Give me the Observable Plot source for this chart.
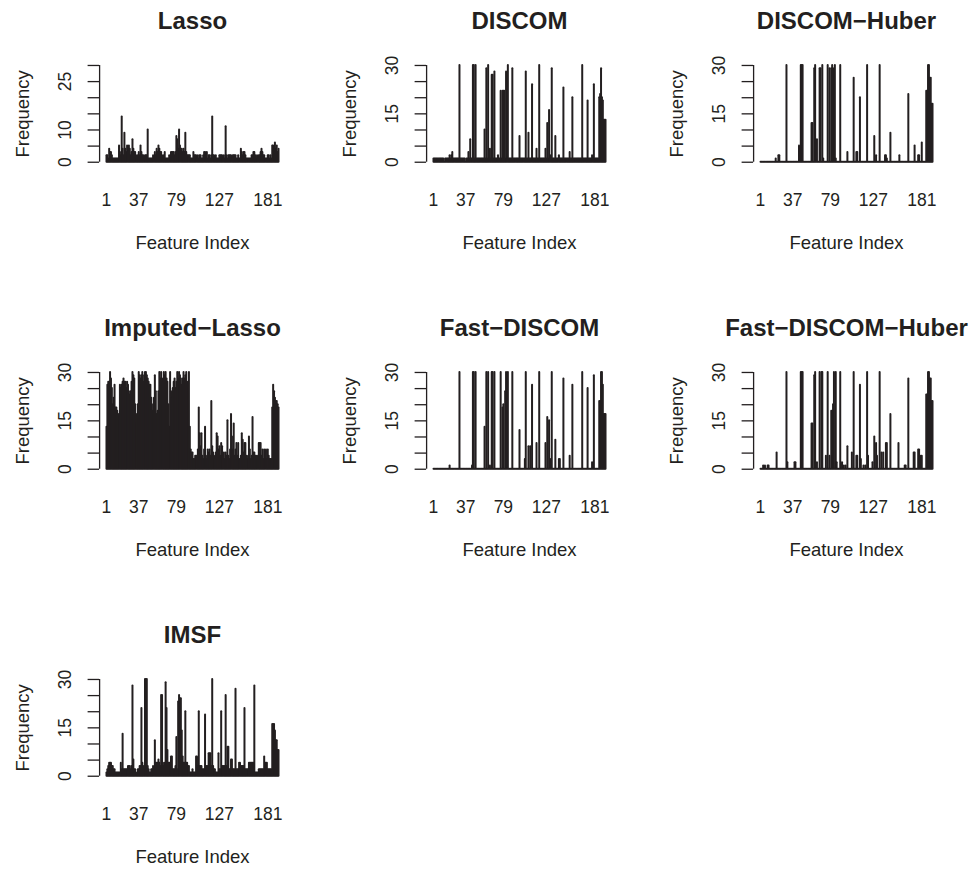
<!DOCTYPE html>
<html><head><meta charset="utf-8">
<script src="https://cdn.jsdelivr.net/npm/d3@7"></script>
<script src="https://cdn.jsdelivr.net/npm/@observablehq/plot@0.6"></script>
<style>
html,body{margin:0;padding:0;background:#fff;}
#chart{position:relative;width:969px;height:869px;overflow:hidden;background:#fff;font-family:"Liberation Sans",Arial,Helvetica,sans-serif;}
#chart svg{position:absolute;}
</style></head><body><div id="chart"></div>
<script>
// ---- data (frequency of selection per feature) ----
const xTickLabels = [1, 37, 79, 127, 181];
const yTickValues = [0, 5, 10, 15, 20, 25, 30];
const yLabelsLasso = [0, 10, 25];
const yLabelsOther = [0, 15, 30];

const lasso = [2,2,1,4,3,3,2,1,1,1,
 1,1,1,1,5,3,2,14,4,2,
 9,4,3,5,3,5,4,2,3,7,
 4,3,3,2,1,2,3,2,5,3,
 2,2,1,2,2,2,10,1,1,1,1,
 1,2,1,3,2,4,3,5,4,3,
 3,2,1,2,3,1,1,1,1,2,
 1,3,3,3,3,2,3,8,7,4,
 10,5,4,4,3,4,3,9,3,2,
 2,2,2,1,1,1,3,2,2,2,1,
 2,1,2,2,1,1,2,3,3,1,
 3,1,2,2,1,2,14,2,2,1,
 2,1,1,1,2,2,2,2,1,2,
 1,11,2,1,2,2,2,2,1,2,
 2,2,2,1,1,2,1,1,4,3,2,
 3,3,2,1,1,1,1,1,1,2,
 2,3,3,2,1,2,1,2,2,3,
 4,3,2,2,1,1,1,2,2,1,
 2,1,5,5,3,6,4,5,3,4];

const discom = [1,1,1,1,1,1,1,1,1,1,
 1,1,0,1,1,1,1,1,2,1,
 2,3,1,1,1,1,1,1,1,30,
 1,1,1,1,1,1,0,1,1,3,
 1,7,1,1,30,30,1,30,1,1,1,
 1,1,1,1,1,1,10,1,29,1,
 30,1,4,1,27,27,1,28,1,1,
 1,2,1,1,22,1,22,22,22,1,
 28,1,30,1,1,1,1,29,1,1,
 1,1,1,1,1,8,1,1,1,1,1,
 1,28,1,1,9,1,1,1,24,1,
 1,1,1,4,1,1,30,1,1,1,
 1,1,1,4,1,12,1,16,1,2,
 29,1,1,1,8,1,1,1,2,1,
 1,1,1,23,1,1,1,1,1,1,3,
 1,1,20,1,1,1,1,1,1,1,
 1,1,1,30,1,1,1,1,1,19,
 1,1,1,1,2,1,24,1,1,1,
 1,1,20,21,29,20,19,13,13,13];

const discomHuber = [0,0,0,0,0,0,0,0,0,0,
 0,0,0,0,0,0,0,1,0,0,
 2,2,0,0,0,0,0,0,0,30,
 0,0,0,0,0,0,0,0,0,0,
 0,0,0,5,0,30,30,30,0,0,0,
 0,0,0,0,0,0,12,12,0,29,
 30,0,7,0,0,29,29,0,30,1,
 0,0,0,0,30,0,29,0,29,30,
 29,0,30,1,0,0,0,0,30,0,
 0,0,0,0,0,0,3,0,0,0,0,
 0,0,26,0,0,3,3,0,0,20,
 0,0,0,0,0,0,0,30,0,0,
 0,0,0,0,0,8,0,2,0,0,
 0,30,0,0,0,0,0,2,2,1,
 0,0,0,9,0,0,0,0,0,0,0,
 0,0,2,0,0,0,0,0,0,0,
 0,0,21,0,0,0,0,0,0,5,
 0,0,0,2,2,0,0,6,0,0,
 0,0,22,22,30,30,26,26,18,18];

const imputedLasso = [13,26,27,27,30,28,25,20,22,26,
 19,19,18,17,16,26,25,26,27,28,
 27,27,25,27,26,24,23,24,27,30,
 29,28,20,14,17,20,30,29,28,29,
 30,27,29,30,30,29,28,27,26,26,22,
 18,20,22,29,24,17,18,24,30,28,
 30,28,27,30,29,30,28,27,20,13,
 30,24,22,25,27,28,25,27,30,28,
 30,29,28,26,28,30,28,29,30,27,
 25,30,13,6,5,5,3,3,4,4,4,
 6,19,11,7,11,4,3,6,13,4,
 3,6,5,6,4,21,7,5,4,3,
 5,11,10,6,7,4,8,7,4,5,
 3,5,4,15,4,3,6,17,10,6,
 14,4,6,8,4,8,3,3,4,11,9,
 5,8,8,4,3,4,10,6,3,4,
 16,5,5,4,4,3,4,8,8,8,
 4,6,3,6,5,6,3,6,4,3,
 3,3,19,26,24,22,21,21,20,19];

const fastDiscom = [0,0,0,0,0,0,0,0,0,0,
 0,0,0,0,0,0,0,0,1,0,
 0,0,0,0,0,0,0,0,0,30,
 0,0,0,0,0,0,0,0,0,0,
 0,0,0,1,30,30,0,30,0,0,0,
 0,0,0,0,0,0,13,0,30,0,
 30,0,1,0,30,30,0,30,0,0,
 0,0,0,0,30,0,19,20,0,24,
 30,0,30,0,0,0,0,30,0,0,
 0,0,0,0,0,12,0,0,0,0,0,
 3,30,0,0,7,0,7,0,26,0,
 0,0,0,8,0,0,30,0,0,0,
 0,0,0,8,0,16,0,15,0,3,
 30,0,0,0,9,0,0,0,3,3,
 0,0,0,28,0,0,0,0,0,0,4,
 0,0,26,0,0,0,0,0,0,0,
 0,0,0,30,0,0,0,0,0,25,
 0,0,0,0,2,0,29,0,0,0,
 0,0,21,21,30,30,26,17,17,17];

const fastDiscomHuber = [0,0,0,1,0,1,0,0,1,1,
 0,0,0,0,0,0,0,0,5,0,
 0,0,0,0,0,0,0,0,0,30,
 2,0,0,0,0,0,0,0,2,2,
 0,0,0,0,0,30,30,30,0,0,0,
 0,0,0,0,0,0,14,14,0,29,
 30,0,2,0,0,30,0,30,30,0,
 0,0,4,0,30,0,4,0,18,18,
 20,30,0,30,2,0,0,0,30,0,
 2,0,1,0,1,0,7,0,0,0,0,
 5,0,30,0,0,4,4,0,0,26,
 3,0,0,1,0,1,0,30,4,0,
 0,0,0,2,0,10,0,8,4,0,
 0,30,0,5,0,5,0,0,8,8,
 0,0,0,17,0,0,0,0,0,0,0,
 0,8,0,0,0,0,0,0,1,1,
 0,0,28,0,0,0,0,0,5,5,
 0,0,0,6,6,0,4,4,0,0,
 0,0,23,23,30,30,28,28,21,21];

const imsf = [1,2,3,4,4,4,3,3,2,2,
 1,1,1,1,1,1,4,2,13,2,
 2,2,2,2,3,3,3,2,3,28,
 5,2,2,1,0,2,2,3,3,21,
 4,3,2,30,30,30,3,2,1,1,2,
 2,3,2,11,4,4,4,5,4,3,
 25,25,4,3,4,29,21,8,4,4,
 4,6,6,2,2,2,3,12,2,23,
 25,24,24,14,6,4,4,20,4,4,
 3,3,1,1,1,2,1,1,1,6,6,
 3,20,3,3,3,2,2,2,19,3,
 3,3,7,7,7,3,30,3,2,2,
 1,1,1,7,2,2,20,3,3,3,
 3,25,3,9,9,2,2,5,5,2,
 2,2,27,2,2,2,4,4,3,3,3,
 3,21,2,2,2,2,4,4,4,4,
 4,4,28,1,1,1,1,2,2,2,
 2,2,2,6,4,4,4,2,2,2,
 2,2,16,16,16,14,11,11,8,8];

const panelTitles = ["Lasso", "DISCOM", "DISCOM\u2212Huber", "Imputed\u2212Lasso", "Fast\u2212DISCOM", "Fast\u2212DISCOM\u2212Huber", "IMSF"];
const panelSeries = [lasso, discom, discomHuber, imputedLasso, fastDiscom, fastDiscomHuber, imsf];
const panelYLabels = [yLabelsLasso, yLabelsOther, yLabelsOther, yLabelsOther, yLabelsOther, yLabelsOther, yLabelsOther];

// ---- drawing ----
const FONT = '"Liberation Sans", Arial, Helvetica, sans-serif';
const INK = "#231f20";
const PW = 327, PH = 307;
const chart = document.getElementById("chart");

panelSeries.forEach((values, p) => {
  const n = values.length;
  const pad = 0.04 * (n - 1);
  const xDomain = [1 - pad, n + pad];
  const yMax = 30;
  const yDomain = [-0.04 * yMax, yMax * 1.04];
  const data = values.map((v, k) => ({i: k + 1, v}));
  const shown = panelYLabels[p];
  const svg = Plot.plot({
    width: PW, height: PH,
    marginLeft: 99.1, marginRight: 42.1, marginTop: 61.1, marginBottom: 141.4,
    x: {domain: xDomain, axis: null, label: null},
    y: {domain: yDomain, axis: null, label: null},
    style: {fontFamily: FONT, background: "transparent", overflow: "visible", color: INK},
    marks: [
      Plot.ruleX(data, {x: "i", y1: 0, y2: "v", stroke: INK, strokeWidth: 2, strokeLinecap: "round"}),
      Plot.ruleX([xDomain[0]], {y1: 0, y2: yMax, stroke: INK, strokeWidth: 1.3}),
      Plot.axisY(yTickValues, {anchor: "left", label: null, tickSize: 11.5, tickRotate: -90, tickPadding: 17,
        strokeWidth: 1.3, fontSize: 17.5, fill: INK,
        tickFormat: d => shown.includes(d) ? String(d) : ""}),
      Plot.axisX(xTickLabels, {anchor: "bottom", label: null, tickSize: 0, tickPadding: 27.7, fontSize: 17.5, fill: INK}),
      Plot.text([panelTitles[p]], {frameAnchor: "top", lineAnchor: "middle", textAnchor: "middle", dy: -40,
        fontWeight: "bold", fontSize: 24, fill: INK}),
      Plot.text(["Frequency"], {frameAnchor: "left", lineAnchor: "middle", textAnchor: "middle", dx: -77, rotate: -90,
        fontSize: 18.5, fill: INK}),
      Plot.text(["Feature Index"], {frameAnchor: "bottom", lineAnchor: "middle", textAnchor: "middle", dy: 77,
        fontSize: 18.5, fill: INK})
    ]
  });
  const col = p % 3, row = Math.floor(p / 3);
  svg.style.left = (col * PW) + "px";
  svg.style.top = (row * PH) + "px";
  chart.appendChild(svg);
});
</script></body></html>
